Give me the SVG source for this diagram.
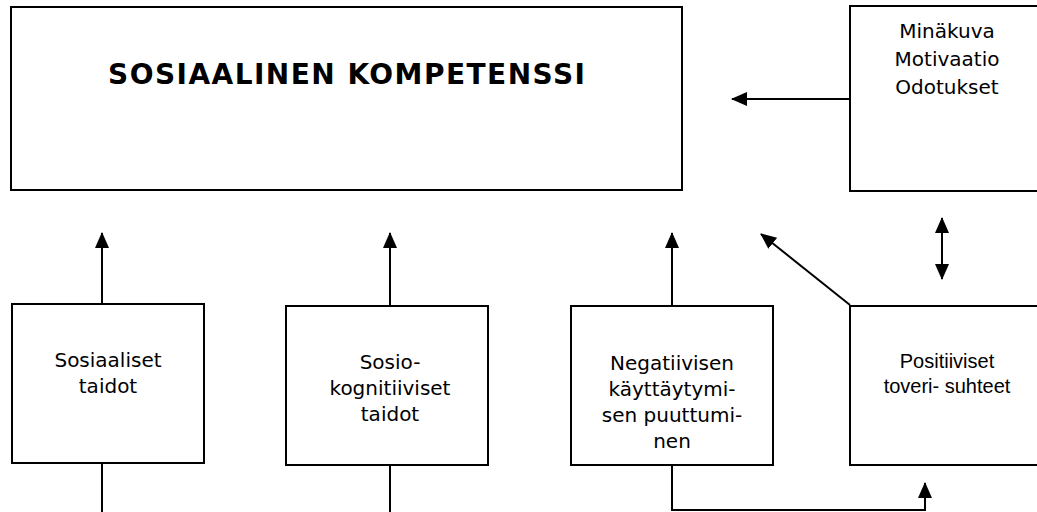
<svg xmlns="http://www.w3.org/2000/svg" width="1037" height="512" viewBox="0 0 1037 512">
<style>
.box{fill:#fff;stroke:#000;stroke-width:2}
.t{font-family:"DejaVu Sans",Verdana,sans-serif;font-size:20px;fill:#000;text-anchor:middle}
.ta{font-family:"Liberation Sans",Arial,sans-serif;font-size:20px;fill:#000;text-anchor:middle}
.title{font-family:"DejaVu Sans",Verdana,sans-serif;font-size:28px;font-weight:bold;fill:#000}
.c{fill:none;stroke:#000;stroke-width:2}
</style>
<defs>
<marker id="ah" markerUnits="userSpaceOnUse" markerWidth="16" markerHeight="14" viewBox="0 0 16 14" refX="15" refY="7" orient="auto-start-reverse">
<path d="M0,0 L16,7 L0,14 Z" fill="#000"/>
</marker>
</defs>
<rect width="1037" height="512" fill="#fff"/>
<g id="connectors">
<line class="c" x1="850" y1="99" x2="732" y2="99" marker-end="url(#ah)"/>
<line class="c" x1="942" y1="218" x2="942" y2="279" marker-start="url(#ah)" marker-end="url(#ah)"/>
<line class="c" x1="850" y1="305" x2="761" y2="234" marker-end="url(#ah)"/>
<line class="c" x1="102" y1="304" x2="102" y2="233" marker-end="url(#ah)"/>
<line class="c" x1="390" y1="306" x2="390" y2="233" marker-end="url(#ah)"/>
<line class="c" x1="672" y1="306" x2="672" y2="233" marker-end="url(#ah)"/>
<line class="c" x1="102" y1="463" x2="102" y2="512"/>
<line class="c" x1="390" y1="465" x2="390" y2="512"/>
<polyline class="c" points="672,465 672,510 925,510 925,483" marker-end="url(#ah)"/>
</g>
<g id="kompetenssi">
<rect class="box" x="11" y="7" width="671" height="183"/>
<text class="title" x="108" y="84" textLength="477" lengthAdjust="spacing">SOSIAALINEN KOMPETENSSI</text>
</g>
<g id="minakuva">
<rect class="box" x="850" y="6" width="200" height="185"/>
<text class="t" x="947" y="38">Minäkuva</text>
<text class="t" x="947" y="66">Motivaatio</text>
<text class="t" x="947" y="94">Odotukset</text>
</g>
<g id="sosiaaliset">
<rect class="box" x="12" y="304" width="192" height="159"/>
<text class="t" x="108" y="367">Sosiaaliset</text>
<text class="t" x="108" y="393">taidot</text>
</g>
<g id="sosiokognitiiviset">
<rect class="box" x="286" y="306" width="202" height="159"/>
<text class="t" x="390" y="369">Sosio-</text>
<text class="t" x="390" y="395">kognitiiviset</text>
<text class="t" x="390" y="421">taidot</text>
</g>
<g id="negatiivisen">
<rect class="box" x="571" y="306" width="202" height="159"/>
<text class="t" x="672" y="370">Negatiivisen</text>
<text class="t" x="672" y="396">käyttäytymi-</text>
<text class="t" x="672" y="422">sen puuttumi-</text>
<text class="t" x="672" y="448">nen</text>
</g>
<g id="positiiviset">
<rect class="box" x="850" y="306" width="200" height="159"/>
<text class="ta" x="947" y="368">Positiiviset</text>
<text class="ta" x="947" y="393">toveri- suhteet</text>
</g>
</svg>
